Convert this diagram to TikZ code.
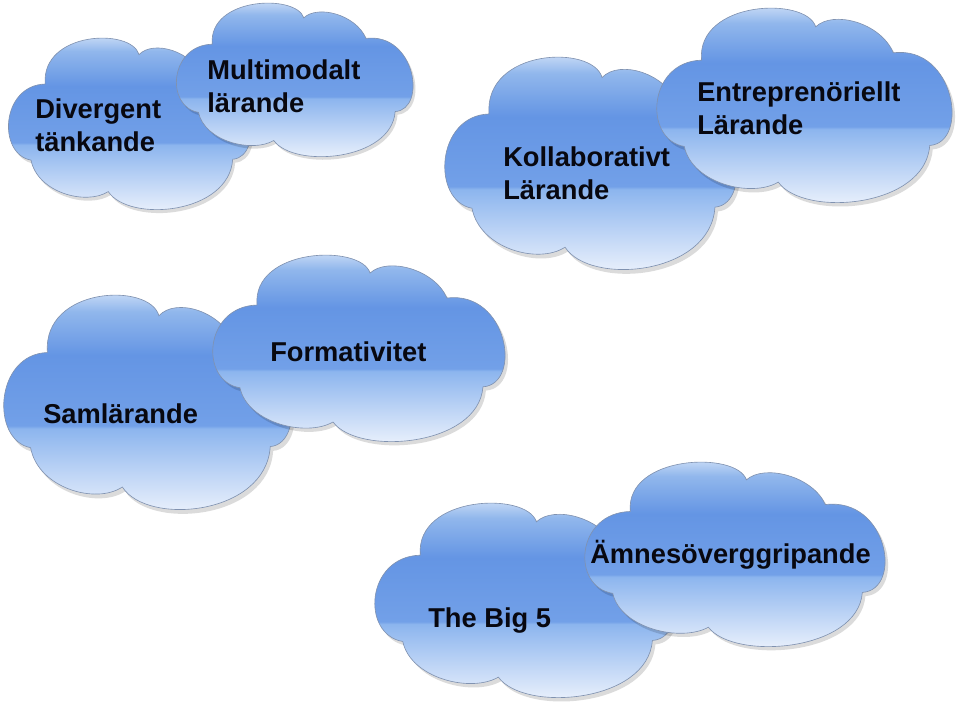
\documentclass[tikz,border=0pt]{standalone}
\usepackage{fontspec}
\setmainfont{Liberation Sans}
\usepackage{tikz}

\definecolor{cloudtop}{RGB}{228,237,251}
\definecolor{cloudtopb}{RGB}{145,183,236}
\definecolor{cloudmid}{RGB}{100,149,228}
\definecolor{cloudmidb}{RGB}{114,160,232}
\definecolor{cloudgloss}{RGB}{140,181,238}
\definecolor{cloudlow}{RGB}{200,219,247}
\definecolor{cloudbot}{RGB}{248,250,254}
\definecolor{cloudedge}{RGB}{128,146,176}
\definecolor{labelink}{RGB}{8,8,16}

\pgfdeclareverticalshading{cloudsky}{100bp}{
  color(0bp)=(cloudbot); color(25bp)=(cloudbot); color(34bp)=(cloudlow);
  color(45bp)=(cloudgloss); color(45.6bp)=(cloudmidb); color(60bp)=(cloudmid);
  color(69bp)=(cloudtopb); color(75bp)=(cloudtop); color(100bp)=(cloudtop)}

\newcommand\cloudpath{(-0.803,0.42) .. controls (-1.08,0.35) and (-1.05,-0.45) .. (-0.687,-0.465)
  .. controls (-0.72,-1.08) and (0.02,-1.12) .. (0.082,-0.807)
  .. controls (0.2,-0.98) and (0.52,-0.85) .. (0.605,-0.54)
  .. controls (1.02,-0.62) and (1.12,0.38) .. (0.85,0.41)
  .. controls (0.82,1.05) and (0.0,1.15) .. (-0.17,0.786)
  .. controls (-0.35,0.95) and (-0.75,0.8) .. (-0.803,0.42) -- cycle}

\tikzset{
  pics/cloud/.style={code={
    \fill[black,opacity=0.14,shift={(0.02,0.04)}] \cloudpath;
    \shadedraw[shading=cloudsky,draw=cloudedge,line width=0.45pt] \cloudpath;
  }},
  lbl/.style={font=\fontsize{19.4}{23.4}\selectfont\bfseries,text=labelink,
    inner sep=0pt,anchor=base west,align=left}
}

\begin{document}
\begin{tikzpicture}[x=0.025cm,y=-0.025cm]
	\useasboundingbox (0,0) rectangle (960,725);
	% top left pair
	\pic[xscale=122,yscale=86] at (129,124) {cloud};
	\pic[xscale=119,yscale=77] at (294,80) {cloud};
	\node[lbl] (div) at (35,151) {Divergent\\tänkande};
	\node[lbl] (multi) at (207,112) {Multimodalt\\lärande};
	% top right pair
	\pic[xscale=147,yscale=106.5] at (590,163.5) {cloud};
	\pic[xscale=148.5,yscale=97.5] at (803.5,105.5) {cloud};
	\node[lbl] (kollab) at (503,199) {Kollaborativt\\Lärande};
	\node[lbl] (entre) at (697,134) {Entreprenöriellt\\Lärande};
	% middle pair
	\pic[xscale=145,yscale=107.5] at (147,402.5) {cloud};
	\pic[xscale=147,yscale=93.5] at (358,348.5) {cloud};
	\node[lbl] (saml) at (43,423) {Samlärande};
	\node[lbl] (form) at (270,361) {Formativitet};
	% bottom pair
	\pic[xscale=151,yscale=97.5] at (524,600.5) {cloud};
	\pic[xscale=151,yscale=92.5] at (734,554.5) {cloud};
	\node[lbl] (big) at (428,627) {The Big 5};
	\node[lbl] (amnes) at (590,563) {Ämnesöverggripande};
\end{tikzpicture}
\end{document}
